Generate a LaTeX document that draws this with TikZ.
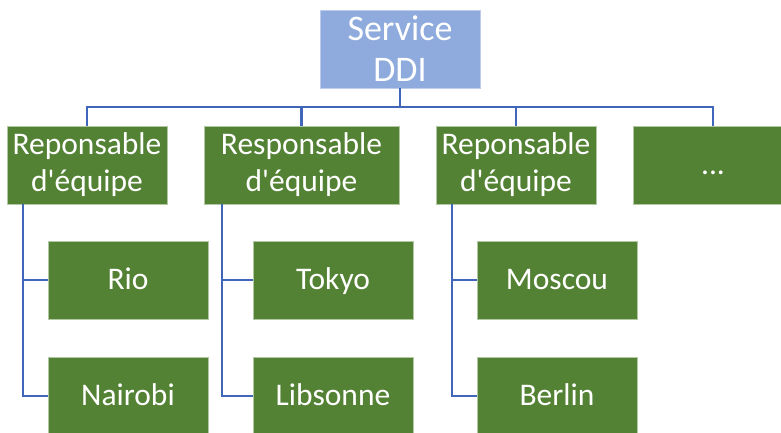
\documentclass[tikz,border=0pt]{standalone}
\usepackage{fontspec}
\setmainfont{Carlito}
\definecolor{boxgreen}{HTML}{548235}
\definecolor{topblue}{HTML}{8FAADC}
\definecolor{linkblue}{HTML}{3F66B8}
\newcommand{\apos}{\textquotesingle}
\tikzset{
  gbox/.style={rectangle, fill=boxgreen, draw=white!55!boxgreen, line width=0.8pt,
    text=white, align=center, inner sep=0pt, minimum width=160pt, minimum height=78pt,
    font=\fontsize{31.5}{37}\selectfont},
  onel/.style={text height=22pt, text depth=4pt},
  tbox/.style={gbox, fill=topblue, draw=white!40!topblue, font=\fontsize{36}{41}\selectfont},
  link/.style={draw=linkblue, line width=2.7pt, line join=miter}
}
\begin{document}
\begin{tikzpicture}[x=1pt, y=-1pt]
\clip (0,0) rectangle (781,432);
\fill[white] (0,0) rectangle (781,432);
% top
\node[tbox] (top) at (400,49) {Service\\DDI};
% level 1
\node[gbox] (b1) at (87,165) {Reponsable\\d\apos équipe};
\node[gbox, minimum width=195pt] (b2) at (301.5,165) {Responsable\\d\apos équipe};
\node[gbox] (b3) at (516,165) {Reponsable\\d\apos équipe};
\node[gbox, onel] (b4) at (713,165) {...};
% level 2
\node[gbox, onel] (c11) at (128,280) {Rio};
\node[gbox, onel] (c12) at (128,396) {Nairobi};
\node[gbox, onel] (c21) at (333,280) {Tokyo};
\node[gbox, onel] (c22) at (333,396) {Libsonne};
\node[gbox, onel] (c31) at (557,280) {Moscou};
\node[gbox, onel] (c32) at (557,396) {Berlin};
% connectors
\coordinate (bus) at (400,107);
\draw[link] (top.south) -- (bus);
\draw[link] (b1.north) |- (bus) -| (b4.north);
\draw[link] (bus) -| (b2.north);
\draw[link] (bus) -| (b3.north);
\draw[link] ([xshift=-64pt]b1.south) |- (c11.west);
\draw[link] ([xshift=-64pt]b1.south) |- (c12.west);
\draw[link] ([xshift=-79.5pt]b2.south) |- (c21.west);
\draw[link] ([xshift=-79.5pt]b2.south) |- (c22.west);
\draw[link] ([xshift=-64pt]b3.south) |- (c31.west);
\draw[link] ([xshift=-64pt]b3.south) |- (c32.west);
\end{tikzpicture}
\end{document}
